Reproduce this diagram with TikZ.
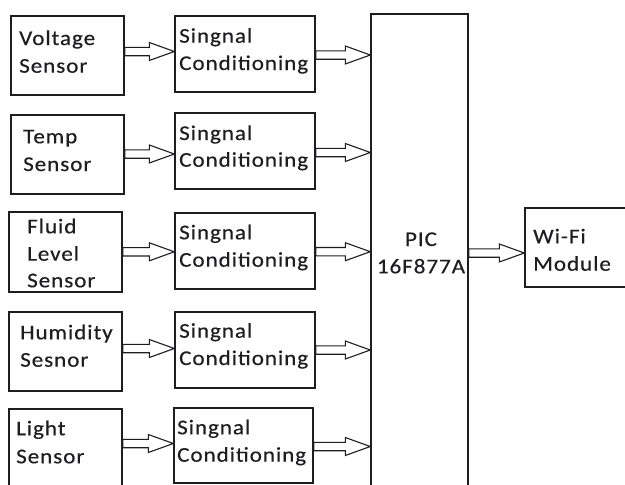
\documentclass[tikz,border=0pt]{standalone}
\usepackage{fontspec}
\setmainfont{Carlito}
\newfontfamily\lblfont[LetterSpace=4.5,FakeStretch=1.1,FakeBold=0.4]{Carlito}
\usetikzlibrary{calc}
\definecolor{ink}{RGB}{30,30,34}
\begin{document}
\begin{tikzpicture}[x=1pt,y=-1pt,
  box/.style={draw=ink, line width=1.4pt, inner sep=0pt, rectangle},
  txt/.style={anchor=base west, inner sep=0pt, font=\lblfont\fontsize{21}{25}\selectfont, text=ink},
  blk/.style={draw=ink, line width=1.1pt, fill=white, line join=miter,
    to path={let \p1=(\tikztostart), \p2=(\tikztotarget) in
      (\x1,\y1+4.2pt) -- (\x2-25pt,\y1+4.2pt) -- (\x2-25pt,\y1+9pt) -- (\x2,\y1)
      -- (\x2-25pt,\y1-9pt) -- (\x2-25pt,\y1-4.2pt) -- (\x1,\y1-4.2pt) -- cycle}}]
\useasboundingbox (0,0) rectangle (625,485);
\clip (0,0) rectangle (625,485);
\fill[white] (0,0) rectangle (625,485);

% sensor boxes
\node[box, minimum width=113pt, minimum height=79pt] (v) at (67.5,55.5) {};
\node[box, minimum width=113pt, minimum height=79pt] (t) at (67.5,154.5) {};
\node[box, minimum width=113pt, minimum height=80pt] (f) at (65.5,252) {};
\node[box, minimum width=113pt, minimum height=79pt] (h) at (65.5,351.5) {};
\node[box, minimum width=113pt, minimum height=100pt] (l) at (65.5,459) {};
% signal conditioning boxes
\node[box, minimum width=140pt, minimum height=76pt] (s1) at (245,54) {};
\node[box, minimum width=140pt, minimum height=76pt] (s2) at (245,151) {};
\node[box, minimum width=140pt, minimum height=76pt] (s3) at (245,251) {};
\node[box, minimum width=140pt, minimum height=76pt] (s4) at (245,350) {};
\node[box, minimum width=139pt, minimum height=75pt] (s5) at (243.5,445.5) {};
% PIC and WiFi
\node[box, minimum width=97pt, minimum height=496pt] (pic) at (419.5,262) {};
\node[box, minimum width=120pt, minimum height=79pt] (wifi) at (585,247.5) {};

% texts
\node[txt] (tv1) at (19,45) {Voltage};
\node[txt] (tv2) at (19,72.7) {Sensor};
\node[txt] (tt1) at (23,143.3) {Temp};
\node[txt] (tt2) at (23,171) {Sensor};
\node[txt] (tf1) at (27,233.3) {Fluid};
\node[txt] (tf2) at (27,260.7) {Level};
\node[txt] (tf3) at (27,287.3) {Sensor};
\node[txt] (th1) at (20,339.3) {Humidity};
\node[txt] (th2) at (20,366.7) {Sesnor};
\node[txt] (tl1) at (16,435.3) {Light};
\node[txt] (tl2) at (16,463.3) {Sensor};
\node[txt] (ts1a) at (179,42.7) {Singnal};
\node[txt] (ts1b) at (179,70) {Conditioning};
\node[txt] (ts2a) at (179,140) {Singnal};
\node[txt] (ts2b) at (179,166.7) {Conditioning};
\node[txt] (ts3a) at (179,239.3) {Singnal};
\node[txt] (ts3b) at (179,266.7) {Conditioning};
\node[txt] (ts4a) at (179,337.7) {Singnal};
\node[txt] (ts4b) at (179,365) {Conditioning};
\node[txt] (ts5a) at (177,434.3) {Singnal};
\node[txt] (ts5b) at (177,461.7) {Conditioning};
\node[txt, anchor=base] (tp1) at (421,246) {PIC};
\node[txt, anchor=base] (tp2) at (421,273.3) {16F877A};
\node[txt] (tw1) at (533,243.3) {Wi-Fi};
\node[txt] (tw2) at (533,270.7) {Module};

% arrow rows
\coordinate (a1) at (0,51.5);
\coordinate (a2) at (0,154);
\coordinate (a3) at (0,251.8);
\coordinate (a4) at (0,348.5);
\coordinate (a5) at (0,443.5);
\coordinate (b1) at (0,55);
\coordinate (b2) at (0,152.5);
\coordinate (b3) at (0,251.7);
\coordinate (b4) at (0,350);
\coordinate (b5) at (0,446.5);
\coordinate (c1) at (0,253);

\path[blk] (v.east |- a1) to (s1.west |- a1);
\path[blk] (t.east |- a2) to (s2.west |- a2);
\path[blk] (f.east |- a3) to (s3.west |- a3);
\path[blk] (h.east |- a4) to (s4.west |- a4);
\path[blk] (l.east |- a5) to (s5.west |- a5);
\path[blk] (s1.east |- b1) to (pic.west |- b1);
\path[blk] (s2.east |- b2) to (pic.west |- b2);
\path[blk] (s3.east |- b3) to (pic.west |- b3);
\path[blk] (s4.east |- b4) to (pic.west |- b4);
\path[blk] (s5.east |- b5) to (pic.west |- b5);
\path[blk] (pic.east |- c1) to (wifi.west |- c1);
\end{tikzpicture}
\end{document}
